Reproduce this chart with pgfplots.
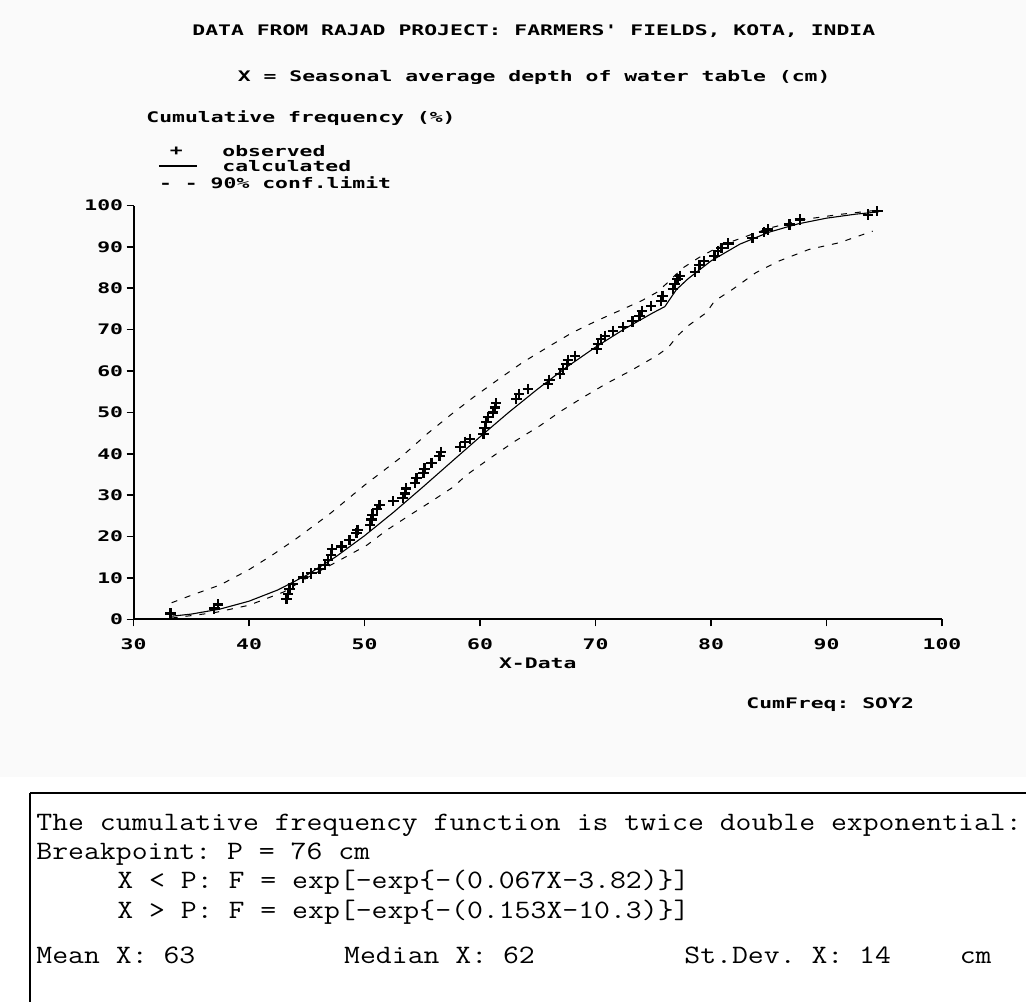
\documentclass[border=0pt]{standalone}
\usepackage{pgfplots}
\pgfplotsset{compat=1.18}
\usepackage{graphicx}
\usepackage{fontspec}
\frenchspacing
\newfontfamily\chartfont{DejaVu Sans Mono}
% the old DOS screen font: wide and flat
\newcommand\cf[1]{{\chartfont\bfseries\fontsize{10.7}{12}\selectfont\scalebox{1}[0.68]{#1}}}
% typewriter text of the results box
\newcommand\bt[1]{{\ttfamily\fontsize{15.43}{18}\selectfont\scalebox{1}[0.86]{#1}}}
\definecolor{bg}{HTML}{FAFAFA}

\begin{document}
\begin{tikzpicture}
\useasboundingbox (0,0) rectangle (513pt,-500.5pt);
\fill[bg] (0,0) rectangle (513pt,-388.5pt);

% headings
\node[inner sep=0] at (266.9pt,-15.5pt) {\cf{DATA FROM RAJAD PROJECT: FARMERS' FIELDS, KOTA, INDIA}};
\node[inner sep=0] at (267.1pt,-38.5pt) {\cf{X = Seasonal average depth of water table (cm)}};
\node[inner sep=0,anchor=west] at (73pt,-59pt) {\cf{Cumulative frequency (\%)}};

% legend
\node[inner sep=0] at (88.2pt,-75.5pt) {\cf{+}};
\node[inner sep=0,anchor=west] at (111pt,-75.5pt) {\cf{observed}};
\draw[line width=0.6pt] (79.4pt,-83pt) -- (98.5pt,-83pt);
\node[inner sep=0,anchor=west] at (111pt,-83pt) {\cf{calculated}};
\node[inner sep=0,anchor=west] at (79.4pt,-91.5pt) {\cf{- - 90\% conf.limit}};
\node[inner sep=0,anchor=west] at (373pt,-352.5pt) {\cf{CumFreq: SOY2}};

\begin{axis}[
  at={(66.75pt,-309.65pt)}, anchor=south west,
  scale only axis, width=404.25pt, height=206.9pt,
  xmin=30, xmax=100, ymin=0, ymax=100,
  axis lines=left, axis line style={-, line width=1pt},
  xtick={30,40,...,100}, ytick={0,10,...,100},
  tick align=outside, major tick length=3.5pt,
  tick style={line width=0.8pt, black},
  /pgf/number format/assume math mode=true,
  xticklabel={\cf{\pgfmathprintnumber{\tick}}},
  yticklabel={\cf{\pgfmathprintnumber{\tick}}},
  x tick label style={inner sep=0pt, anchor=center, yshift=-9pt},
  y tick label style={inner sep=0pt, anchor=east, xshift=-1.5pt},
  xlabel={\cf{X-Data}},
  xlabel style={at={(axis description cs:0.5,0)}, anchor=center, yshift=-21.9pt, inner sep=0pt},
  clip=false,
]
% 90% confidence limits
\addplot[black, line width=0.5pt, dash pattern=on 3pt off 4pt] coordinates {
  (33.3,4.0) (35,5.8) (37.5,8.3) (40,12.0) (42,15.5) (44,19.3) (47,25.5)
  (50,32.4) (53,38.8) (55.5,45.0) (57.5,49.5) (59.4,53.6) (61.5,57.8)
  (63.7,62.1) (66,66.0) (68,69.3) (70,72.0) (72,74.5) (74,77.0) (75.3,79.0)
  (76.3,81.5) (77.5,84.8) (79,87.5) (81,90.5) (83,92.5) (85,94.5) (88,96.6)
  (91,97.8) (94.5,98.9)
};
\addplot[black, line width=0.5pt, dash pattern=on 3pt off 4pt] coordinates {
  (33.3,0.3) (37,1.6) (40,3.4) (43,6.6) (45,10.0) (47.6,13.9) (50.2,17.9)
  (51.9,21.5) (53.6,24.6) (55.9,28.7) (57.7,32.0) (58.8,34.8) (60.8,38.8)
  (63,43.0) (65.2,46.8) (67,50.3) (68.9,53.6) (70.9,56.9) (73,60.0)
  (75.3,63.7) (76.3,65.7) (77.1,68.5) (78,70.9) (79.6,74.1) (80.3,76.9)
  (81.9,79.8) (83.9,83.8) (85.9,86.6) (88.5,89.4) (91.1,91.0) (94.0,93.8)
};
% calculated
\addplot[black, line width=0.55pt] coordinates {
  (33.3,0.75) (35,1.26) (37.5,2.48) (40,4.38) (42.5,7.10) (45,10.68)
  (47.5,15.08) (50,20.19) (52.5,25.84) (55,31.84) (57.5,37.98) (60,44.10)
  (62.5,50.04) (65,55.67) (67.5,60.94) (70,65.77) (72.5,70.17) (75,74.10)
  (76,75.56) (77,79.66) (78,82.27) (80,86.61) (82.5,90.66) (85,93.53)
  (87.5,95.54) (90,96.94) (92.5,97.90) (94.5,98.45)
};
% observed
\addplot[only marks, mark=+, mark size=2.6pt, mark options={line width=1.1pt, black}] coordinates {
  (33.2,1.4) (37.0,2.6) (37.3,3.6) (43.25,5.0) (43.4,6.2) (43.5,7.4)
  (43.8,8.6) (44.7,10.1) (45.4,11.1) (46.1,12.2) (46.6,13.1) (46.85,14.3)
  (47.1,15.5) (47.2,16.9) (48.0,17.6) (48.7,19.1) (49.3,20.8) (49.4,21.6)
  (50.5,22.7) (50.6,24.1) (50.7,25.3) (51.1,26.6) (51.3,27.6) (52.5,28.6)
  (53.3,29.4) (53.5,30.4) (53.6,31.6) (54.35,33.0) (54.5,34.2) (55.1,35.4)
  (55.2,36.4) (55.8,37.8) (56.5,39.4) (56.6,40.4) (58.3,41.7) (58.7,42.9)
  (59.1,43.6) (60.3,44.8) (60.4,46.2) (60.55,47.6) (60.7,48.8) (61.1,50.0)
  (61.3,51.2) (61.4,52.2) (63.15,53.3) (63.4,54.5) (64.15,55.7) (65.9,56.9)
  (66.0,57.9) (66.9,59.3) (67.2,60.5) (67.5,61.7) (67.6,62.7) (68.2,63.7)
  (70.1,65.3) (70.2,66.5) (70.5,67.7) (70.8,68.5) (71.5,69.7) (72.4,70.6)
  (73.2,72.0) (73.8,73.3) (74.0,74.5) (74.8,75.7) (75.7,76.9) (75.8,78.1)
  (76.7,79.8) (76.85,81.0) (77.1,82.2) (77.3,83.0) (78.6,83.9) (79.0,85.6)
  (79.4,86.6) (80.3,87.8) (80.6,89.0) (80.9,89.8) (81.5,90.8) (83.6,92.2)
  (84.6,93.6) (84.9,94.2) (86.8,95.4) (87.7,96.6) (93.6,97.8) (94.4,98.6)
};
\end{axis}

% results box below the chart
\draw[line width=1pt] (15pt,-396.5pt) -- (514pt,-396.5pt);
\draw[line width=0.6pt] (15pt,-396.5pt) -- (15pt,-501pt);
\node[inner sep=0,anchor=base west] at (18pt,-415pt) {\bt{The cumulative frequency function is twice double exponential:}};
\node[inner sep=0,anchor=base west] at (18pt,-429.5pt) {\bt{Breakpoint: P = 76 cm}};
\node[inner sep=0,anchor=base west] at (58.5pt,-444pt) {\bt{X < P: F = exp[-exp\{-(0.067X-3.82)\}]}};
\node[inner sep=0,anchor=base west] at (58.5pt,-459pt) {\bt{X > P: F = exp[-exp\{-(0.153X-10.3)\}]}};
\node[inner sep=0,anchor=base west] at (18pt,-481.5pt) {\bt{Mean X: 63}};
\node[inner sep=0,anchor=base west] at (171.9pt,-481.5pt) {\bt{Median X: 62}};
\node[inner sep=0,anchor=base west] at (342pt,-481.5pt) {\bt{St.Dev. X: 14}};
\node[inner sep=0,anchor=base west] at (479.7pt,-481.5pt) {\bt{cm}};
\end{tikzpicture}
\end{document}
